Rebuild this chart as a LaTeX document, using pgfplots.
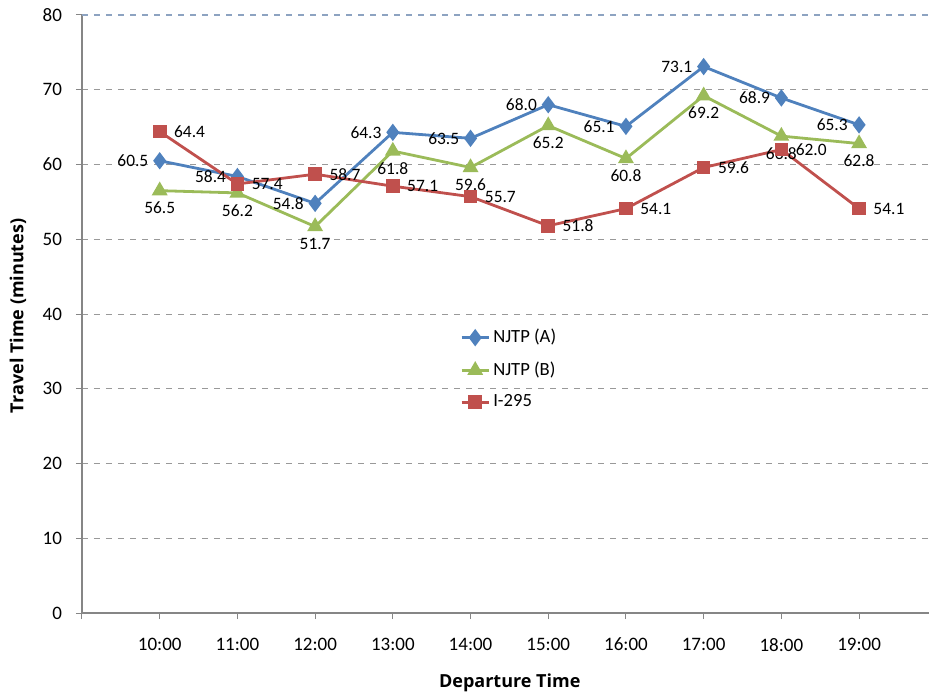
\documentclass[border=0pt]{standalone}
\usepackage{pgfplots}
\pgfplotsset{compat=1.18}
\usepackage{fontspec}
\setmainfont{Carlito}
\newfontfamily\ylabfont{Open Sans}
\definecolor{cA}{HTML}{4F81BD}
\definecolor{cB}{HTML}{9BBB59}
\definecolor{cC}{HTML}{C0504D}
\definecolor{axisgray}{HTML}{868686}
\definecolor{topblue}{HTML}{8DA3C1}
\begin{document}
\begin{tikzpicture}
\useasboundingbox (-41pt,-42pt) rectangle (423.5pt,306.5pt);
\begin{axis}[
  at={(0,0)}, anchor=south west,
  width=423.5pt, height=299pt, scale only axis,
  xmin=0, xmax=10.9, ymin=0, ymax=80,
  xtick={0,...,10},
  xticklabels={,10:00,11:00,12:00,13:00,14:00,15:00,16:00,17:00,18:00,19:00},
  ytick={0,10,...,70},
  extra y ticks={80},
  extra y tick style={grid style={color=topblue, dashed, line width=0.8pt}},
  axis x line*=bottom, axis y line*=left,
  axis line style={draw=axisgray, line width=1pt},
  tick style={draw=axisgray, line width=0.5pt},
  tick align=outside, major tick length=3pt,
  ymajorgrids, grid style={dashed, color=gray!80, line width=0.5pt},
  /pgf/number format/assume math mode=true,
  tick label style={font=\fontsize{9.5}{11}\selectfont},
  xticklabel style={yshift=-6pt},
  yticklabel style={xshift=-3.5pt},
  xlabel={\ylabfont\bfseries Departure Time},
  xlabel style={at={(axis description cs:0.505,0)}, anchor=center, yshift=-35pt, font=\fontsize{9}{11}\selectfont},
  ylabel={\ylabfont\bfseries Travel Time (minutes)},
  ylabel style={at={(axis description cs:-0.0756,0.497)}, anchor=center, font=\fontsize{9}{11}\selectfont},
  legend style={at={(axis description cs:0.446,0.48)}, anchor=north west, draw=none, fill=none,
    font=\fontsize{9.3}{11}\selectfont, row sep=5pt, inner sep=0pt,
    nodes={inner sep=1.5pt}},
  legend cell align=left,
  legend image code/.code={\draw[mark repeat=2,mark phase=2] plot coordinates {(0cm,0cm) (0.24cm,0cm) (0.48cm,0cm)};},
  nodes near coords={\pgfmathprintnumber[fixed,fixed zerofill,precision=1,assume math mode=true]{\pgfplotspointmeta}},
  every node near coord/.append style={font=\fontsize{8.7}{10}\selectfont, text=black, inner sep=1pt},
]
\addplot[color=cA, line width=1.4pt, mark=diamond*, mark size=3.2pt, mark options={solid, fill=cA},
  every node near coord/.append style={anchor=east, xshift=-4pt}]
  coordinates {(1,60.5) (2,58.4) (3,54.8) (4,64.3) (5,63.5) (6,68.0) (7,65.1) (8,73.1) (9,68.9) (10,65.3)};
\addlegendentry{NJTP (A)}
\addplot[color=cB, line width=1.4pt, mark=triangle*, mark size=3.2pt, mark options={solid, fill=cB},
  every node near coord/.append style={anchor=north, yshift=-4pt}]
  coordinates {(1,56.5) (2,56.2) (3,51.7) (4,61.8) (5,59.6) (6,65.2) (7,60.8) (8,69.2) (9,63.8) (10,62.8)};
\addlegendentry{NJTP (B)}
\addplot[color=cC, line width=1.4pt, mark=square*, mark size=2.7pt, mark options={solid, fill=cC},
  every node near coord/.append style={anchor=west, xshift=5.5pt}]
  coordinates {(1,64.4) (2,57.4) (3,58.7) (4,57.1) (5,55.7) (6,51.8) (7,54.1) (8,59.6) (9,62.0) (10,54.1)};
\addlegendentry{I-295}
\end{axis}
\end{tikzpicture}
\end{document}
